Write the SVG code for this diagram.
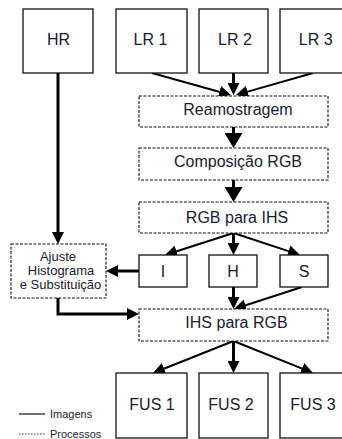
<svg xmlns="http://www.w3.org/2000/svg" width="342" height="439" viewBox="0 0 342 439">
<style>
.img{fill:#fff;stroke:#111;stroke-width:1.3}
.proc{fill:#fff;stroke:#111;stroke-width:1.1;stroke-dasharray:3 1.5}
.t{font-family:"Liberation Sans",Arial,sans-serif;font-size:16px;fill:#1a1a33;text-anchor:middle}
.ts{font-family:"Liberation Sans",Arial,sans-serif;font-size:13px;fill:#1a1a33;text-anchor:middle}
.lg{font-family:"Liberation Sans",Arial,sans-serif;font-size:11px;fill:#1a1a33}
.a{stroke:#000;stroke-width:2;fill:none;marker-end:url(#ah)}
.b{stroke:#000;stroke-width:3;fill:none;marker-end:url(#ab)}
.c{stroke:#000;stroke-width:3;fill:none;marker-end:url(#ah)}
</style>
<defs>
<marker id="ah" viewBox="0 0 12 12" refX="7" refY="6" markerWidth="12" markerHeight="12" markerUnits="userSpaceOnUse" orient="auto"><path d="M0,0 L12,6 L0,12 z" fill="#000"/></marker>
<marker id="ab" viewBox="0 0 15 18" refX="9" refY="9" markerWidth="15" markerHeight="18" markerUnits="userSpaceOnUse" orient="auto"><path d="M0,0 L15,9 L0,18 z" fill="#000"/></marker>
</defs>
<g id="connectors">
<line class="c" x1="58" y1="73" x2="58" y2="239"/>
<line class="a" x1="152" y1="73" x2="226.2" y2="93.7"/>
<line class="c" x1="233.5" y1="73" x2="233.5" y2="90"/>
<line class="a" x1="313" y1="73" x2="240.8" y2="93.6"/>
<line class="b" x1="233.5" y1="127" x2="233.5" y2="142"/>
<line class="b" x1="233.5" y1="180" x2="233.5" y2="196"/>
<line class="a" x1="233.5" y1="233" x2="169.8" y2="253.5"/>
<line class="c" x1="233.5" y1="233" x2="233.5" y2="250"/>
<line class="a" x1="233.5" y1="233" x2="295.2" y2="253.4"/>
<line class="c" x1="139" y1="271" x2="111" y2="271"/>
<line class="c" x1="233.5" y1="287" x2="233.5" y2="304"/>
<line class="a" x1="302" y1="287" x2="238.8" y2="307.5"/>
<path class="c" d="M58,298 V314 H134"/>
<line class="a" x1="233.5" y1="341" x2="157.6" y2="371.2"/>
<line class="c" x1="233.5" y1="341" x2="233.5" y2="368"/>
<line class="a" x1="233.5" y1="341" x2="308.4" y2="371.1"/>
</g>
<g id="HR"><rect class="img" x="23" y="9" width="70" height="64"/><text class="t" x="58.5" y="45">HR</text></g>
<g id="LR1"><rect class="img" x="116" y="9" width="71" height="64"/><text class="t" x="150.5" y="45">LR 1</text></g>
<g id="LR2"><rect class="img" x="199" y="9" width="69" height="64"/><text class="t" x="235" y="45">LR 2</text></g>
<g id="LR3"><rect class="img" x="280" y="9" width="71" height="64"/><text class="t" x="315.7" y="45">LR 3</text></g>
<g id="Reamostragem"><rect class="proc" x="139" y="96" width="189" height="31"/><text class="t" x="238" y="115">Reamostragem</text></g>
<g id="ComposicaoRGB"><rect class="proc" x="139" y="148" width="189" height="32"/><text class="t" x="238" y="167">Composição RGB</text></g>
<g id="RGBparaIHS"><rect class="proc" x="139" y="202" width="189" height="31"/><text class="t" x="237" y="223">RGB para IHS</text></g>
<g id="Ajuste"><rect class="proc" x="11" y="244" width="95" height="54"/><text class="ts" x="58" y="261">Ajuste</text><text class="ts" x="61" y="275">Histograma</text><text class="ts" x="60.5" y="289">e Substituição</text></g>
<g id="I"><rect class="img" x="139" y="255" width="48" height="32"/><text class="t" x="163" y="277">I</text></g>
<g id="H"><rect class="img" x="209" y="255" width="48" height="32"/><text class="t" x="233" y="277">H</text></g>
<g id="S"><rect class="img" x="280" y="255" width="48" height="32"/><text class="t" x="304" y="277">S</text></g>
<g id="IHSparaRGB"><rect class="proc" x="139" y="309" width="189" height="32"/><text class="t" x="236.5" y="328">IHS para RGB</text></g>
<g id="FUS1"><rect class="img" x="116" y="373" width="71" height="65"/><text class="t" x="152" y="410">FUS 1</text></g>
<g id="FUS2"><rect class="img" x="199" y="373" width="69" height="65"/><text class="t" x="231" y="410">FUS 2</text></g>
<g id="FUS3"><rect class="img" x="280" y="373" width="71" height="65"/><text class="t" x="313" y="410">FUS 3</text></g>
<g id="legend">
<line x1="19" y1="414" x2="45" y2="414" stroke="#111" stroke-width="1.2"/>
<text class="lg" x="50" y="418">Imagens</text>
<line x1="19" y1="434" x2="45" y2="434" stroke="#333" stroke-width="1" stroke-dasharray="1.5 1.5"/>
<text class="lg" x="50" y="437.5">Processos</text>
</g>
</svg>
